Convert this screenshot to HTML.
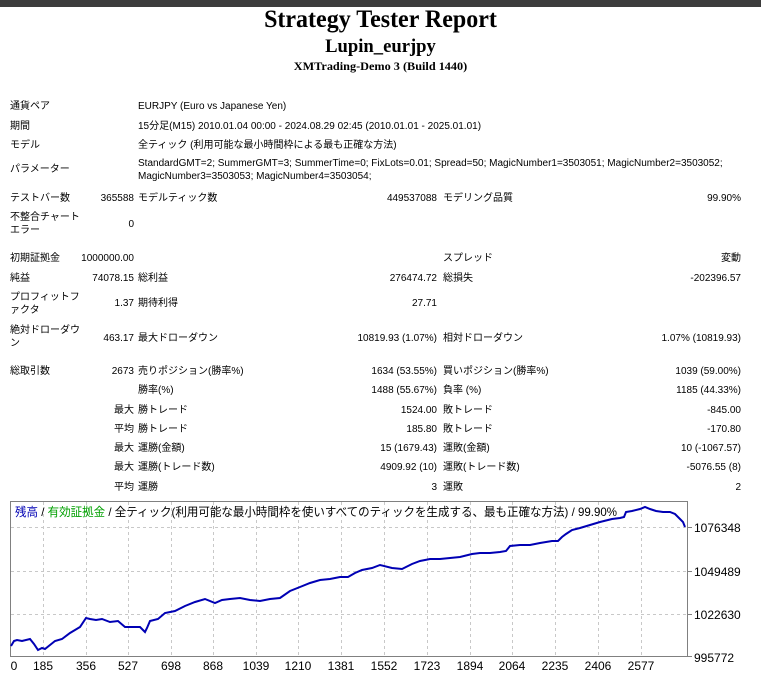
<!DOCTYPE html>
<html><head><meta charset="utf-8"><style>
body{margin:0;width:761px;height:676px;background:#fff;position:relative;overflow:hidden;font-family:"Liberation Sans","Noto Sans CJK JP",sans-serif;font-size:10px;color:#000}
.bar{position:absolute;left:0;top:0;width:761px;height:7px;background:#3c3c3c}
.h{position:absolute;left:0;width:761px;text-align:center;font-family:"Liberation Serif",serif;font-weight:bold;white-space:nowrap}
.t{position:absolute;white-space:nowrap;line-height:13px}
.r{position:absolute;white-space:nowrap;line-height:13px;text-align:right}
</style></head><body>
<div class="bar"></div>
<div class="h" style="top:6px;font-size:25px;transform:scaleX(.96)">Strategy Tester Report</div>
<div class="h" style="top:36px;font-size:19px;transform:scaleX(.98)">Lupin_eurjpy</div>
<div class="h" style="top:59px;font-size:12px;transform:scaleX(1.02)">XMTrading-Demo 3 (Build 1440)</div>

<div class="t" style="left:10px;top:100px">通貨ペア</div>
<div class="t" style="left:138px;top:100px">EURJPY (Euro vs Japanese Yen)</div>
<div class="t" style="left:10px;top:120px">期間</div>
<div class="t" style="left:138px;top:120px">15分足(M15) 2010.01.04 00:00 - 2024.08.29 02:45 (2010.01.01 - 2025.01.01)</div>
<div class="t" style="left:10px;top:139px">モデル</div>
<div class="t" style="left:138px;top:139px">全ティック (利用可能な最小時間枠による最も正確な方法)</div>
<div class="t" style="left:10px;top:163px">パラメーター</div>
<div class="t" style="left:138px;top:157px">StandardGMT=2; SummerGMT=3; SummerTime=0; FixLots=0.01; Spread=50; MagicNumber1=3503051; MagicNumber2=3503052;</div>
<div class="t" style="left:138px;top:170px">MagicNumber3=3503053; MagicNumber4=3503054;</div>

<div class="t" style="left:10px;top:192px">テストバー数</div>
<div class="r" style="right:627px;top:192px">365588</div>
<div class="t" style="left:138px;top:192px">モデルティック数</div>
<div class="r" style="right:324px;top:192px">449537088</div>
<div class="t" style="left:443px;top:192px">モデリング品質</div>
<div class="r" style="right:20px;top:192px">99.90%</div>

<div class="t" style="left:10px;top:211px">不整合チャート<br>エラー</div>
<div class="r" style="right:627px;top:218px">0</div>

<div class="t" style="left:10px;top:252px">初期証拠金</div>
<div class="r" style="right:627px;top:252px">1000000.00</div>
<div class="t" style="left:443px;top:252px">スプレッド</div>
<div class="r" style="right:20px;top:252px">変動</div>

<div class="t" style="left:10px;top:272px">純益</div>
<div class="r" style="right:627px;top:272px">74078.15</div>
<div class="t" style="left:138px;top:272px">総利益</div>
<div class="r" style="right:324px;top:272px">276474.72</div>
<div class="t" style="left:443px;top:272px">総損失</div>
<div class="r" style="right:20px;top:272px">-202396.57</div>

<div class="t" style="left:10px;top:291px">プロフィットフ<br>ァクタ</div>
<div class="r" style="right:627px;top:297px">1.37</div>
<div class="t" style="left:138px;top:297px">期待利得</div>
<div class="r" style="right:324px;top:297px">27.71</div>

<div class="t" style="left:10px;top:324px">絶対ドローダウ<br>ン</div>
<div class="r" style="right:627px;top:332px">463.17</div>
<div class="t" style="left:138px;top:332px">最大ドローダウン</div>
<div class="r" style="right:324px;top:332px">10819.93 (1.07%)</div>
<div class="t" style="left:443px;top:332px">相対ドローダウン</div>
<div class="r" style="right:20px;top:332px">1.07% (10819.93)</div>

<div class="t" style="left:10px;top:365px">総取引数</div>
<div class="r" style="right:627px;top:365px">2673</div>
<div class="t" style="left:138px;top:365px">売りポジション(勝率%)</div>
<div class="r" style="right:324px;top:365px">1634 (53.55%)</div>
<div class="t" style="left:443px;top:365px">買いポジション(勝率%)</div>
<div class="r" style="right:20px;top:365px">1039 (59.00%)</div>

<div class="t" style="left:138px;top:384px">勝率(%)</div>
<div class="r" style="right:324px;top:384px">1488 (55.67%)</div>
<div class="t" style="left:443px;top:384px">負率 (%)</div>
<div class="r" style="right:20px;top:384px">1185 (44.33%)</div>

<div class="r" style="right:627px;top:404px">最大</div>
<div class="t" style="left:138px;top:404px">勝トレード</div>
<div class="r" style="right:324px;top:404px">1524.00</div>
<div class="t" style="left:443px;top:404px">敗トレード</div>
<div class="r" style="right:20px;top:404px">-845.00</div>

<div class="r" style="right:627px;top:423px">平均</div>
<div class="t" style="left:138px;top:423px">勝トレード</div>
<div class="r" style="right:324px;top:423px">185.80</div>
<div class="t" style="left:443px;top:423px">敗トレード</div>
<div class="r" style="right:20px;top:423px">-170.80</div>

<div class="r" style="right:627px;top:442px">最大</div>
<div class="t" style="left:138px;top:442px">運勝(金額)</div>
<div class="r" style="right:324px;top:442px">15 (1679.43)</div>
<div class="t" style="left:443px;top:442px">運敗(金額)</div>
<div class="r" style="right:20px;top:442px">10 (-1067.57)</div>

<div class="r" style="right:627px;top:461px">最大</div>
<div class="t" style="left:138px;top:461px">運勝(トレード数)</div>
<div class="r" style="right:324px;top:461px">4909.92 (10)</div>
<div class="t" style="left:443px;top:461px">運敗(トレード数)</div>
<div class="r" style="right:20px;top:461px">-5076.55 (8)</div>

<div class="r" style="right:627px;top:481px">平均</div>
<div class="t" style="left:138px;top:481px">運勝</div>
<div class="r" style="right:324px;top:481px">3</div>
<div class="t" style="left:443px;top:481px">運敗</div>
<div class="r" style="right:20px;top:481px">2</div>

<svg style="position:absolute;left:0;top:0" width="761" height="676">
<g stroke="#c8c8c8" stroke-dasharray="3,3" stroke-width="1">
<line x1="11" y1="527.5" x2="688" y2="527.5"/><line x1="11" y1="571.5" x2="688" y2="571.5"/><line x1="11" y1="614.5" x2="688" y2="614.5"/>
<line x1="43.5" y1="502" x2="43.5" y2="656"/><line x1="86.5" y1="502" x2="86.5" y2="656"/><line x1="128.5" y1="502" x2="128.5" y2="656"/><line x1="171.5" y1="502" x2="171.5" y2="656"/><line x1="213.5" y1="502" x2="213.5" y2="656"/><line x1="256.5" y1="502" x2="256.5" y2="656"/><line x1="298.5" y1="502" x2="298.5" y2="656"/><line x1="341.5" y1="502" x2="341.5" y2="656"/><line x1="384.5" y1="502" x2="384.5" y2="656"/><line x1="427.5" y1="502" x2="427.5" y2="656"/><line x1="470.5" y1="502" x2="470.5" y2="656"/><line x1="512.5" y1="502" x2="512.5" y2="656"/><line x1="555.5" y1="502" x2="555.5" y2="656"/><line x1="598.5" y1="502" x2="598.5" y2="656"/><line x1="641.5" y1="502" x2="641.5" y2="656"/>
</g>
<rect x="10.5" y="501.5" width="677" height="155" fill="none" stroke="#808080"/>
<g stroke="#808080"><line x1="688" y1="527.5" x2="692" y2="527.5"/><line x1="688" y1="571.5" x2="692" y2="571.5"/><line x1="688" y1="614.5" x2="692" y2="614.5"/><line x1="688" y1="656.5" x2="692" y2="656.5"/></g>
<polyline fill="none" stroke="#0000b4" stroke-width="2" points="11,646 14,641 17,640 22,641 30,639 34,644 38,650 42,648 45,649 50,645 55,641 62,639 70,633 75,630 80,627 86,618 90,619 96,620 102,619 110,622 118,621 125,627 133,627 140,627 145,632 147,628 150,621 158,619 165,613 175,611 185,606 195,602 205,599 215,603 222,600 230,599 240,598 250,600 260,601 270,599 280,598 290,591 300,587 310,583 320,580 330,579 340,577 348,577 355,573 362,570 372,568 380,565 392,568 402,569 412,564 420,561 430,559 440,559 450,558 460,557 472,554 480,553 490,553 500,552 506,551 510,546 520,545 530,545 540,543 552,541 558,541 562,537 566,534 572,530 580,528 590,525 600,522 612,519 620,518 624,517 626,512 632,511 640,509 645,507 650,509 656,511 663,512 670,512 675,514 680,519 683,522 685,527"/>
<g font-family="Liberation Sans,sans-serif" font-size="12" fill="#000">
<text x="694" y="532">1076348</text><text x="694" y="576">1049489</text><text x="694" y="619">1022630</text><text x="694" y="662">995772</text>
<g text-anchor="middle"><text x="14" y="670">0</text><text x="43" y="670">185</text><text x="86" y="670">356</text><text x="128" y="670">527</text><text x="171" y="670">698</text><text x="213" y="670">868</text><text x="256" y="670">1039</text><text x="298" y="670">1210</text><text x="341" y="670">1381</text><text x="384" y="670">1552</text><text x="427" y="670">1723</text><text x="470" y="670">1894</text><text x="512" y="670">2064</text><text x="555" y="670">2235</text><text x="598" y="670">2406</text><text x="641" y="670">2577</text></g>
</g>
<text x="15" y="516" font-family="Liberation Sans,Noto Sans CJK JP,sans-serif" font-size="12" textLength="602" lengthAdjust="spacingAndGlyphs"><tspan fill="#0000b4">残高</tspan><tspan fill="#000"> / </tspan><tspan fill="#00a000">有効証拠金</tspan><tspan fill="#000"> / 全ティック(利用可能な最小時間枠を使いすべてのティックを生成する、最も正確な方法) / 99.90%</tspan></text>
</svg>
</body></html>
